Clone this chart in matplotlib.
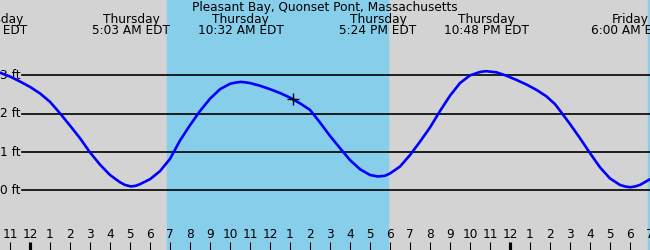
import matplotlib
matplotlib.use("Agg")
from matplotlib import pyplot as plt

# hours since Thursday midnight (EDT) and tide height in ft
hours = [-1.5, -1.0, -0.5, 0.0, 0.5, 1.0, 1.5, 2.0, 2.5, 3.0, 3.5, 4.0, 4.5, 4.75, 5.05,
         5.3, 5.5, 6.0, 6.5, 7.0, 7.5, 8.0, 8.5, 9.0, 9.5, 10.0, 10.25, 10.53, 10.75, 11.0,
         11.5, 12.0, 12.5, 13.0, 13.5, 14.0, 14.5, 15.0, 15.5, 16.0, 16.5, 17.0, 17.4,
         17.75, 18.0, 18.5, 19.0, 19.5, 20.0, 20.5, 21.0, 21.5, 22.0, 22.5, 22.8, 23.33,
         23.83, 24.33, 24.83, 25.33, 25.83, 26.25, 26.5, 27.0, 27.5, 28.0, 28.5, 29.0,
         29.5, 29.75, 30.0, 30.25, 30.5, 31.0]
heights = [3.07, 2.97, 2.84, 2.70, 2.53, 2.31, 2.01, 1.69, 1.36, 0.99, 0.67, 0.40, 0.21, 0.14, 0.10,
           0.12, 0.16, 0.29, 0.50, 0.82, 1.30, 1.70, 2.07, 2.39, 2.64, 2.78, 2.81, 2.83, 2.82, 2.80,
           2.73, 2.64, 2.54, 2.42, 2.27, 2.10, 1.77, 1.42, 1.10, 0.79, 0.55, 0.40, 0.36,
           0.38, 0.44, 0.62, 0.92, 1.27, 1.64, 2.07, 2.47, 2.80, 3.00, 3.09, 3.11, 3.08,
           2.99, 2.88, 2.76, 2.62, 2.45, 2.25, 2.08, 1.73, 1.36, 0.97, 0.60, 0.31,
           0.14, 0.10, 0.08, 0.10, 0.14, 0.29]

event_times = [-2.05, 5.05, 10.53, 17.4, 22.8, 30.0]
event_days = ["Wednesday", "Thursday", "Thursday", "Thursday", "Thursday", "Friday"]
event_labels = ["9:56 PM EDT", "5:03 AM EDT", "10:32 AM EDT", "5:24 PM EDT",
                "10:48 PM EDT", "6:00 AM EDT"]

daylight = [(6.85, 17.9), (30.88, 43.0)]
now_time = 13.17
now_height = 2.38

hour_ticks = list(range(-1, 32))
ft_levels = [0, 1, 2, 3]

TITLE = "Pleasant Bay, Quonset Pont, Massachusetts"

W, H = 650, 250
FS = 8.7
fig = plt.figure(figsize=(6.5, 2.5), dpi=100)
ax = fig.add_axes([0, 0, 1, 1])
ax.set_facecolor("#d3d3d3")
ax.set_xlim(-1.5, 31.0)
y0, ppf = 190.3, 38.3
ax.set_ylim((y0 - H) / ppf, y0 / ppf)
ax.axis("off")
fig.patch.set_facecolor("#d3d3d3")

for start, end in daylight:
    ax.axvspan(start, end, color="#87ceeb", zorder=1)

for lvl in ft_levels:
    ax.axhline(lvl, xmin=22 / W, xmax=1, color="black", lw=1.2, zorder=2)
    ax.text(20 / W, lvl, "%d ft" % lvl, transform=ax.get_yaxis_transform(),
            ha="right", va="center", fontsize=FS, zorder=3)

ax.plot(hours, heights, color="#0000ff", lw=1.9, zorder=4,
        solid_capstyle="round", solid_joinstyle="round")
ax.plot([now_time], [now_height], marker="+", color="black", ms=8, mew=1, zorder=5)

trans = ax.get_xaxis_transform()
ax.text(0.5, 1 - 7 / H, TITLE, transform=ax.transAxes, ha="center", va="center",
        fontsize=FS, zorder=6)
for t, day, lab in zip(event_times, event_days, event_labels):
    ax.text(t, 1 - 20 / H, day, transform=trans, ha="center", va="center", fontsize=FS, zorder=6)
    ax.text(t, 1 - 31 / H, lab, transform=trans, ha="center", va="center", fontsize=FS, zorder=6)

for h in hour_ticks:
    lab = (h - 1) % 12 + 1
    ax.text(h, 1 - 235 / H, str(lab), transform=trans, ha="center", va="center",
            fontsize=FS, zorder=6)
    thick = 3 if h % 24 == 0 else 1
    ax.plot([h, h], [0, 8 / H], transform=trans, color="black", lw=thick * 0.75,
            solid_capstyle="butt", zorder=6)

fig.savefig("out.png", dpi=100, facecolor=fig.get_facecolor())
